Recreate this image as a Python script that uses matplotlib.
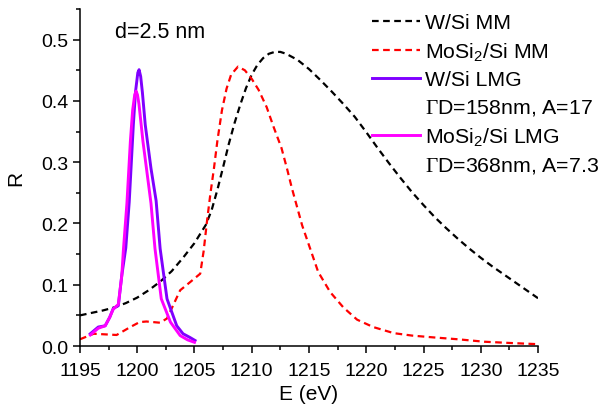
import matplotlib
matplotlib.use("Agg")
import matplotlib.pyplot as plt
from matplotlib.lines import Line2D

# Dados
E_wsi_mm = [1195, 1196, 1197, 1198, 1199, 1200, 1201, 1202, 1203, 1204, 1205, 1206,
            1206.5, 1207, 1207.5, 1208, 1208.5, 1209, 1209.5, 1210, 1210.5, 1211, 1211.5,
            1212, 1212.5, 1213, 1214, 1215, 1216, 1217, 1218, 1219, 1220, 1221, 1222,
            1223, 1224, 1225, 1226, 1227, 1228, 1229, 1230, 1231, 1232, 1233, 1234, 1235]
R_wsi_mm = [0.050, 0.054, 0.058, 0.063, 0.070, 0.079, 0.091, 0.105, 0.122, 0.144, 0.168, 0.198,
            0.222, 0.255, 0.292, 0.330, 0.364, 0.394, 0.421, 0.443, 0.459, 0.470, 0.477,
            0.480, 0.480, 0.477, 0.467, 0.452, 0.434, 0.415, 0.395, 0.374, 0.349, 0.323, 0.298,
            0.274, 0.251, 0.230, 0.210, 0.192, 0.175, 0.159, 0.144, 0.130, 0.117, 0.104, 0.091, 0.078]

E_mosi_mm = [1195, 1196.2, 1197.2, 1198.2, 1199.4, 1200.2, 1200.8, 1202.0, 1202.6, 1203.0,
             1203.75, 1204.6, 1205.5, 1205.8, 1206.1, 1206.4, 1206.7, 1207.0, 1207.4, 1207.8,
             1208.2, 1208.8, 1209.4, 1210.0, 1210.6, 1211.3, 1211.9, 1212.6, 1213.1, 1213.5,
             1214.4, 1215.1, 1215.8, 1216.85, 1218.0, 1219.2, 1220.6, 1222.4, 1224.0, 1225.9,
             1228.0, 1230.3, 1232.5, 1235]
R_mosi_mm = [0.011, 0.020, 0.019, 0.018, 0.031, 0.039, 0.040, 0.038, 0.045, 0.061,
             0.091, 0.104, 0.118, 0.155, 0.205, 0.250, 0.290, 0.335, 0.385, 0.420,
             0.443, 0.456, 0.450, 0.436, 0.418, 0.390, 0.358, 0.323, 0.288, 0.258,
             0.197, 0.159, 0.121, 0.088, 0.063, 0.043, 0.031, 0.021, 0.017, 0.014,
             0.011, 0.007, 0.005, 0.003]

E_wsi_lmg = [1195.9, 1196.6, 1197.2, 1197.6, 1197.9, 1198.35, 1198.65, 1199.0, 1199.3, 1199.66,
             1199.85, 1200.05, 1200.16, 1200.3, 1200.45, 1200.7, 1201.2, 1201.65, 1202.0, 1202.6,
             1203.45, 1204.0, 1204.6, 1205.05]
R_wsi_lmg = [0.020, 0.031, 0.033, 0.047, 0.061, 0.066, 0.115, 0.160, 0.235, 0.361,
             0.415, 0.446, 0.451, 0.440, 0.414, 0.361, 0.290, 0.237, 0.159, 0.077,
             0.033, 0.020, 0.014, 0.009]

E_mosi_lmg = [1195.9, 1196.6, 1197.2, 1197.6, 1197.9, 1198.35, 1198.65, 1198.8, 1199.1, 1199.4,
              1199.6, 1199.78, 1199.9, 1200.02, 1200.15, 1200.5, 1201.2, 1201.55, 1202.1, 1202.9,
              1203.75, 1204.4, 1205.0]
R_mosi_lmg = [0.018, 0.029, 0.033, 0.047, 0.060, 0.068, 0.115, 0.159, 0.233, 0.334,
              0.385, 0.410, 0.416, 0.410, 0.395, 0.334, 0.233, 0.159, 0.077, 0.039,
              0.017, 0.010, 0.006]

plt.rcParams["font.family"] = ["Liberation Sans", "DejaVu Sans"]
plt.rcParams["mathtext.fontset"] = "custom"
plt.rcParams["mathtext.rm"] = "Liberation Serif"
plt.rcParams["mathtext.it"] = "Liberation Serif:italic"
plt.rcParams["mathtext.sf"] = "Liberation Sans"

fig = plt.figure(figsize=(6.0, 4.06), dpi=100)
ax = fig.add_axes([0.1333, 0.1453, 0.7634, 0.83])

tracejado = (0, (3, 2))
ax.plot(E_wsi_mm, R_wsi_mm, color="black", lw=1.6, linestyle=tracejado)
ax.plot(E_mosi_mm, R_mosi_mm, color="#ff0000", lw=1.6, linestyle=tracejado)
ax.plot(E_wsi_lmg, R_wsi_lmg, color="#7f00ff", lw=2.1, solid_joinstyle="round")
ax.plot(E_mosi_lmg, R_mosi_lmg, color="#ff00ff", lw=2.1, solid_joinstyle="round")

ax.set_xlim(1195, 1235)
ax.set_ylim(0, 0.55)
ax.set_xticks(range(1195, 1236, 5))
ax.set_xticks([1197.5 + 5 * i for i in range(8)], minor=True)
ax.set_yticks([0.0, 0.1, 0.2, 0.3, 0.4, 0.5])
ax.set_yticks([0.05, 0.15, 0.25, 0.35, 0.45, 0.55], minor=True)
ax.set_yticklabels(["0.0", "0.1", "0.2", "0.3", "0.4", "0.5"])

for lado in ["top", "right"]:
    ax.spines[lado].set_visible(False)
for lado in ["left", "bottom"]:
    ax.spines[lado].set_linewidth(1.1)
ax.tick_params(which="major", direction="out", length=5, width=1.1, labelsize=14)
ax.tick_params(which="minor", direction="out", length=3, width=1.1)
ax.tick_params(axis="x", which="major", pad=6.5)

ax.set_xlabel("E (eV)", fontsize=15, labelpad=3.5)
ax.set_ylabel("R", fontsize=15, labelpad=11)

ax.text(1198.1, 0.514, "d=2.5 nm", fontsize=15.5, va="center", ha="left")

handles = [
    Line2D([], [], color="black", lw=1.6, linestyle=tracejado),
    Line2D([], [], color="#ff0000", lw=1.6, linestyle=tracejado),
    Line2D([], [], color="#7f00ff", lw=2.1),
    Line2D([], [], color="none"),
    Line2D([], [], color="#ff00ff", lw=2.1),
    Line2D([], [], color="none"),
]
labels = [
    "W/Si MM",
    r"MoSi$_\mathsf{2}$/Si MM",
    "W/Si LMG",
    r"$\Gamma$D=158nm, A=17",
    r"MoSi$_\mathsf{2}$/Si LMG",
    r"$\Gamma$D=368nm, A=7.3",
]
ax.legend(handles, labels, loc="upper left", bbox_to_anchor=(0.6376, 0.988),
          frameon=False, fontsize=15.3, handlelength=2.25, handletextpad=0.23,
          borderpad=0, borderaxespad=0, labelspacing=0.38)

fig.savefig("out.png", dpi=100)
